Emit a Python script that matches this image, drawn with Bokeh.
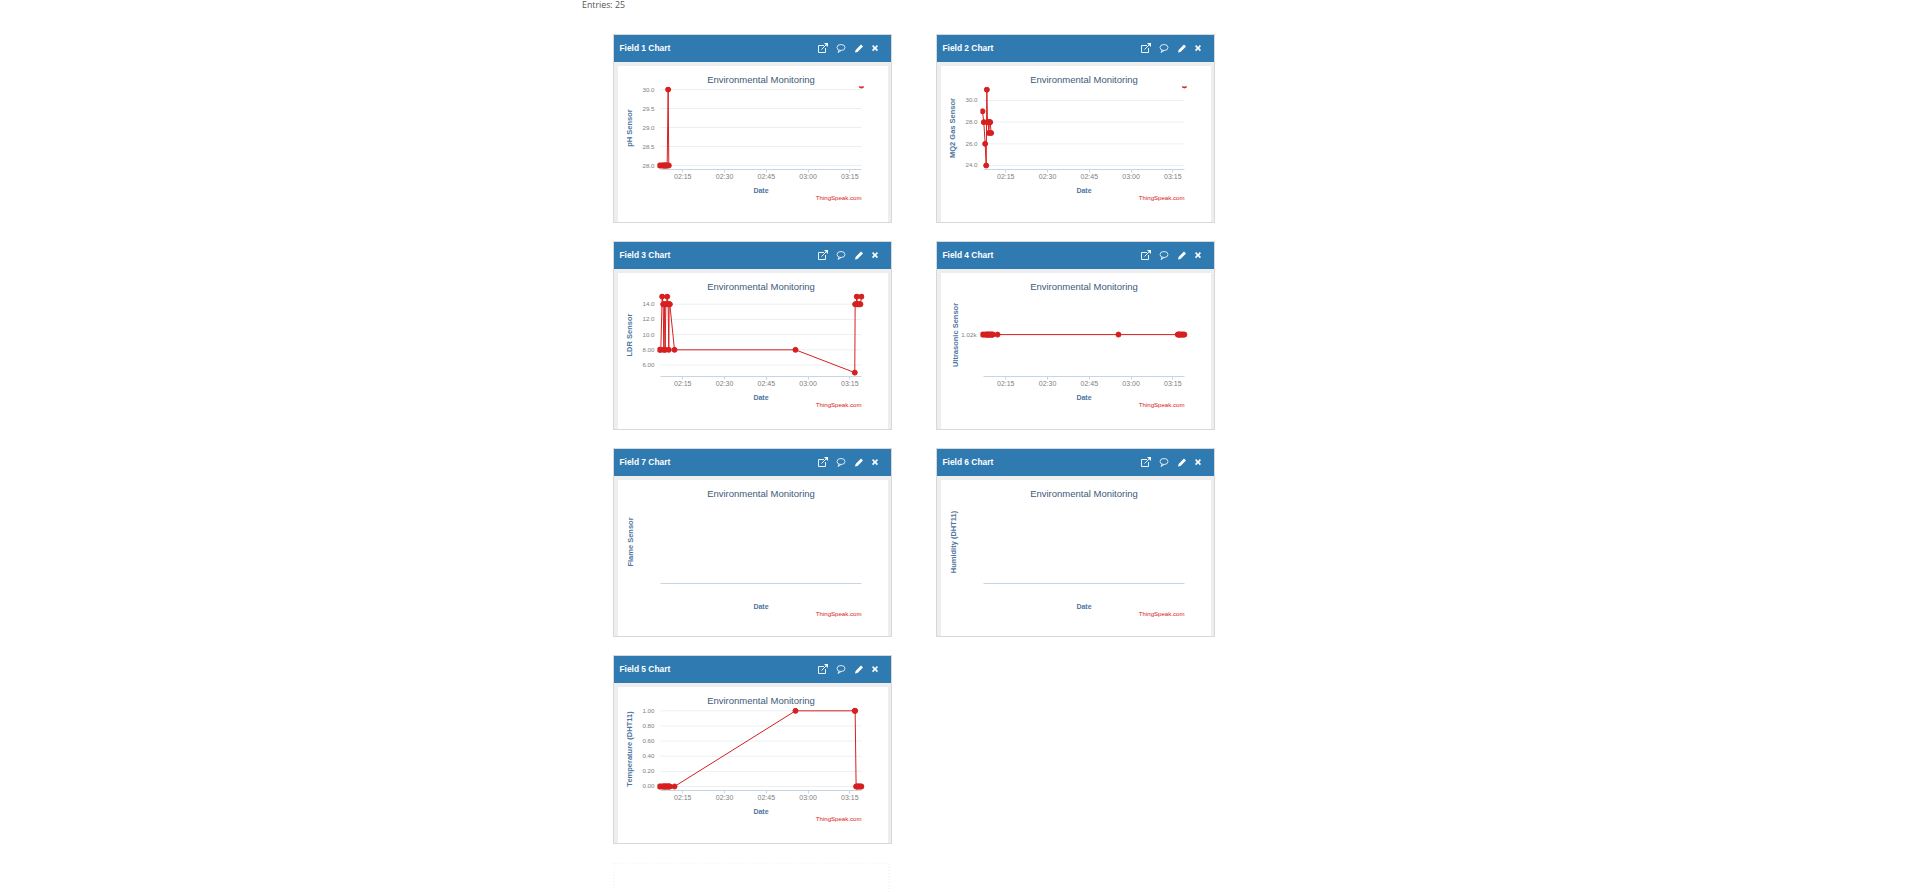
import pandas as pd
from bokeh.embed import file_html
from bokeh.layouts import column, row
from bokeh.models import (BoxAnnotation, ColumnDataSource, DatetimeTickFormatter, Div, FixedTicker,
                          Label, Range1d, Spacer, Title)
from bokeh.plotting import figure
from bokeh.resources import INLINE

N = float("nan")
times = ["02:06:38", "02:07:07", "02:07:36", "02:07:58", "02:08:12", "02:08:26", "02:08:41",
         "02:08:55", "02:09:09", "02:09:24", "02:09:45", "02:09:59", "02:10:07", "02:10:21",
         "02:12:02", "02:55:29", "03:16:47", "03:16:55", "03:17:16", "03:17:30", "03:17:45",
         "03:18:06", "03:18:28", "03:18:49", "03:19:11"]
x_tick_labels = ["02:15", "02:30", "02:45", "03:00", "03:15"]

field1 = [28, 28, 28, 28, 28, 28, 28, 28, 28, 28, 30, 28, N, N, N, N, N, N, N, N, N, N, N, N, 30.105]
field2 = [29, 28, 26, 24, 31, 28, 28, 27, 28, 28, 27, N, N, N, N, N, N, N, N, N, N, N, N, N, 31.39]
field3 = [8, 8, 15, 14, 8, 14, 8, 14, 14, 15, 14, 8, 14, 14, 8, 8, 5, 14, 14, 15, 14, 14, 14, 14, 15]
field4 = [1020] * 25
field5 = [0, 0, 0, 0, 0, 0, 0, 0, 0, 0, 0, 0, 0, 0, 0, 1, 1, 1, 0, 0, 0, 0, 0, 0, 0]
field6 = []
field7 = []

ph_ticks = [28.0, 28.5, 29.0, 29.5, 30.0]
ph_labels = ["28.0", "28.5", "29.0", "29.5", "30.0"]
mq2_ticks = [24, 26, 28, 30]
mq2_labels = ["24.0", "26.0", "28.0", "30.0"]
ldr_ticks = [6, 8, 10, 12, 14]
ldr_labels = ["6.00", "8.00", "10.0", "12.0", "14.0"]
ultra_ticks = [1020]
ultra_labels = ["1.02k"]
temp_ticks = [0, 0.2, 0.4, 0.6, 0.8, 1.0]
temp_labels = ["0.00", "0.20", "0.40", "0.60", "0.80", "1.00"]

SANS = "Liberation Sans"
RED = "#d62020"
BLUE = "#2f7bb1"
GREY = "#eeeeee"


def ms(t):
    full = t + ":00" if t.count(":") == 1 else t
    return pd.Timestamp("2024-01-01 " + full).value / 1e6


X_START = ms("02:07:00")
X_END = ms("03:19:12")
PAD = (X_END - X_START) * 3 / 201

ICON_SVG = (
    '<svg width="72" height="12" viewBox="0 0 72 12" style="position:absolute;left:202.5px;top:7px">'
    '<g fill="none" stroke="white" stroke-width="0.9">'
    '<path d="M7 3.5H1.5V10.5H8.5V6"/><path d="M4.5 7.5L9.5 2.5"/></g>'
    '<path d="M7 1H11V5Z" fill="white"/>'
    '<g fill="none" stroke="white" stroke-width="0.8"><ellipse cx="24" cy="5.5" rx="4" ry="3"/>'
    '<path d="M22 8.2L21 10.5L24 8.6"/></g>'
    '<path d="M38 10.5L38.6 8L44 2.5L46 4.5L40.5 10Z" fill="white"/>'
    '<path d="M55 3.2L56.2 2L58 3.9L59.8 2L61 3.2L59.2 5L61 6.9L59.8 8.2L58 6.3L56.2 8.2L55 6.9L56.8 5Z" '
    'fill="white" transform="translate(0,1)"/>'
    "</svg>"
)


def header(title):
    html = (f'<div style="position:relative;width:277px;height:27px;background:{BLUE};overflow:hidden">'
            f'<span style="position:absolute;left:5.5px;top:6.5px;font:bold 8.4px/12px \'{SANS}\';color:white;'
            f'white-space:nowrap">{title}</span>{ICON_SVG}</div>')
    return Div(text=html, width=277, height=27, margin=0)


def card(title, ylabel, ys, y_range, ticks, labels, y_off=5, y_standoff=3):
    p = figure(width=270, height=156, x_axis_type="datetime", output_backend="svg",
               toolbar_location=None, x_range=Range1d(X_START - PAD, X_END + PAD), y_range=Range1d(*y_range),
               min_border_left=39, min_border_right=24, min_border_top=20, min_border_bottom=53,
               margin=(4, 0, 0, 4), styles={"background-color": "white"})
    p.border_fill_color = "white"
    p.background_fill_color = None
    p.outline_line_color = None
    p.grid.visible = False

    p.title = Title(text="Environmental Monitoring", align="center", text_font=SANS, text_font_size="9.5px",
                    text_font_style="normal", text_color="#3e5a7a", standoff=3, offset=0)
    if not len(ys):
        # no tick labels on an empty chart: keep the same room below the axis
        p.add_layout(Title(text=" ", text_font=SANS, text_font_size="10px", standoff=2), "below")
    p.add_layout(Title(text="Date", align="center", text_font=SANS, text_font_size="7px",
                       text_font_style="bold", text_color="#4d759e", standoff=4), "below")
    p.add_layout(Title(text="ThingSpeak.com", align="right", text_font=SANS, text_font_size="6.1px",
                       text_font_style="normal", text_color=RED, standoff=-7, offset=3), "below")

    xa = p.xaxis[0]
    xa.bounds = (X_START, X_END)
    xa.ticker = FixedTicker(ticks=[ms(t) for t in x_tick_labels] if len(ys) else [])
    xa.formatter = DatetimeTickFormatter(minutes="%H:%M", hours="%H:%M", hourmin="%H:%M", minsec="%H:%M",
                                         seconds="%H:%M", days="%H:%M")
    xa.axis_line_color = "#c8d6e4"
    xa.major_tick_line_color = "#c8d6e4"
    xa.minor_tick_line_color = None
    xa.major_tick_in = 0
    xa.major_tick_out = 3
    xa.major_label_standoff = 0
    xa.major_label_text_font = SANS
    xa.major_label_text_font_size = "7px"
    xa.major_label_text_color = "#808080"

    ya = p.yaxis[0]
    ya.ticker = FixedTicker(ticks=ticks)
    ya.major_label_overrides = dict(zip(ticks, labels))
    ya.axis_line_color = None
    ya.major_tick_line_color = None
    ya.minor_tick_line_color = None
    ya.major_tick_in = 0
    ya.major_tick_out = 0
    ya.major_label_standoff = y_standoff
    ya.major_label_text_font = SANS
    ya.major_label_text_font_size = "6.2px"
    ya.major_label_text_color = "#808080"
    ya.axis_label = ylabel
    ya.axis_label_text_font = SANS
    ya.axis_label_text_font_size = "7.5px"
    ya.axis_label_text_font_style = "bold"
    ya.axis_label_text_color = "#4d759e"
    ya.axis_label_standoff = y_off

    if len(ticks) > 1:
        p.segment(x0=[X_START] * len(ticks), x1=[X_END] * len(ticks), y0=ticks, y1=ticks,
                  line_color="#eceff2", line_width=1, level="underlay")

    if len(ys):
        src = ColumnDataSource(dict(x=[ms(t) for t in times], y=ys))
        p.line("x", "y", source=src, line_color=RED, line_width=1)
        p.scatter("x", "y", source=src, size=5, color=RED)

    return column(header(title), p, width=279, height=189, spacing=0, margin=0,
                  styles={"background-color": GREY, "border": "1px solid #d8d8d8", "box-sizing": "border-box"})


def gap(w):
    return Spacer(width=w, height=1)


c1 = card("Field 1 Chart", "pH Sensor", field1, (27.895, 30.08), ph_ticks, ph_labels)
c2 = card("Field 2 Chart", "MQ2 Gas Sensor", field2, (23.63, 31.29), mq2_ticks, mq2_labels)
c3 = card("Field 3 Chart", "LDR Sensor", field3, (4.49, 15.41), ldr_ticks, ldr_labels)
c4 = card("Field 4 Chart", "Ultrasonic Sensor", field4, (1018.99, 1020.99), ultra_ticks, ultra_labels,
          y_off=-2, y_standoff=4)
c7 = card("Field 7 Chart", "Flame Sensor", field7, (0, 1), [], [], y_off=23)
c6 = card("Field 6 Chart", "Humidity (DHT11)", field6, (0, 1), [], [], y_off=23)
c5 = card("Field 5 Chart", "Temperature (DHT11)", field5, (-0.053, 1.044), temp_ticks, temp_labels)

strip = figure(width=1900, height=34, output_backend="svg", toolbar_location=None, x_axis_location=None,
               y_axis_location=None, min_border=0, x_range=Range1d(0, 1), y_range=Range1d(0, 1))
strip.outline_line_color = None
strip.grid.visible = False
strip.add_layout(Label(x=581.5, y=27, x_units="screen", y_units="screen", text="Entries: 25",
                       text_font="Open Sans", text_font_size="8.8px", text_color="#555555",
                       text_baseline="alphabetic", y_offset=3))

tail = figure(width=277, height=30, output_backend="svg", toolbar_location=None, x_axis_location=None,
              y_axis_location=None, min_border=0, x_range=Range1d(0, 1), y_range=Range1d(0, 1))
tail.outline_line_color = None
tail.grid.visible = False
tail.add_layout(BoxAnnotation(left=0.5, right=275.5, top=29.5, bottom=-20, left_units="screen", right_units="screen",
                              top_units="screen", bottom_units="screen", fill_alpha=0,
                              line_color="#c4c4c4", line_dash="1 2"))

LEFT = 613
vgap = lambda: Spacer(width=1, height=18)
root = column(
    strip,
    row(gap(LEFT), c1, gap(44), c2, spacing=0),
    vgap(),
    row(gap(LEFT), c3, gap(44), c4, spacing=0),
    vgap(),
    row(gap(LEFT), c7, gap(44), c6, spacing=0),
    vgap(),
    row(gap(LEFT), c5, spacing=0),
    vgap(),
    row(gap(LEFT), tail, spacing=0),
    spacing=0,
)
open("out.html", "w").write(file_html(root, INLINE))
